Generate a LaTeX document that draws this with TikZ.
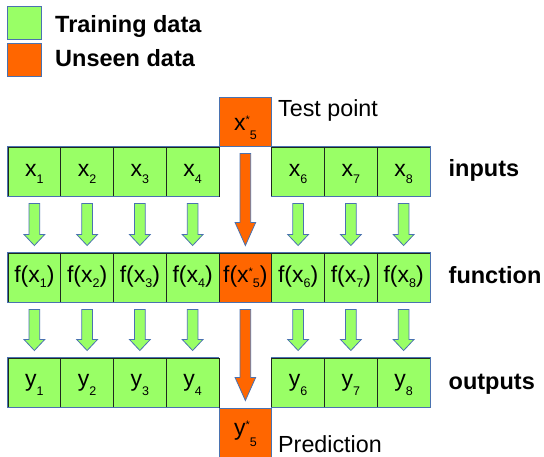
\documentclass[tikz,border=0pt]{standalone}
\usepackage{fontspec}
\setmainfont{Liberation Sans}
\usetikzlibrary{calc}

\definecolor{traingreen}{HTML}{99FF66}
\definecolor{unseenorange}{HTML}{FF6600}
\definecolor{edgeblue}{HTML}{4A72B0}
\definecolor{divider}{HTML}{1E2A1E}

% lowered subscript digit: #1 = drop below the baseline, #2 = digit
\newcommand\dsub[2]{\raisebox{-#1}{\fontsize{12.5}{13}\selectfont #2}}
% small star used for the unseen point
\newcommand\starmark{\raisebox{7pt}{\fontsize{11}{11}\selectfont *}}
% block arrow from the bottom of node #2 to the top of node #3,
% filled with #1, head length #4
\newcommand\blockarrow[4]{%
  \draw[arrowline, fill=#1]
    ($(#2.south)+(-5.3,7)$) -- ($(#3.north)+(-5.3,-7-#4)$)
    -- ($(#3.north)+(-10.3,-7-#4)$) -- ($(#3.north)+(0,-7)$)
    -- ($(#3.north)+(10.3,-7-#4)$) -- ($(#3.north)+(5.3,-7-#4)$)
    -- ($(#2.south)+(5.3,7)$) -- cycle;}

\begin{document}
\begin{tikzpicture}[x=1pt,y=-1pt,
  cell/.style={rectangle, minimum width=52.75pt, minimum height=49pt,
    inner sep=0pt, draw=divider, line width=0.9pt, fill=traingreen,
    font=\fontsize{23}{27}\selectfont, text depth=2pt},
  inrow/.style={text height=11.6pt},
  fnrow/.style={text height=13pt},
  outrow/.style={text height=10.4pt},
  unseen/.style={fill=unseenorange},
  blueline/.style={draw=edgeblue, line width=0.9pt},
  arrowline/.style={draw=edgeblue, line width=0.8pt, line join=miter},
  key/.style={rectangle, minimum width=34pt, minimum height=32.5pt,
    inner sep=0pt, draw=edgeblue, line width=0.9pt},
  keytext/.style={anchor=base west, inner sep=0pt,
    font=\fontsize{23.5}{28}\selectfont\bfseries},
  rowtext/.style={anchor=base west, inner sep=0pt,
    font=\fontsize{23.5}{28}\selectfont\bfseries},
  notetext/.style={anchor=base west, inner sep=0pt,
    font=\fontsize{23.3}{28}\selectfont}]

\useasboundingbox (0,0) rectangle (544,457);

% legend
\node[key, fill=traingreen] (keytrain) at (24.8,22.9) {};
\node[key, fill=unseenorange] (keyunseen) at (24.8,60.2) {};
\node[keytext] (keytraintext) at (55,32.3) {Training data};
\node[keytext] (keyunseentext) at (55,66.7) {Unseen data};

% inputs row
\foreach \i in {1,2,3,4,6,7,8}
  \node[cell, inrow] (x\i) at ({8+52.75*(\i-0.5)},171.5) {x\dsub{7.4pt}{\i}};
% function row
\foreach \i in {1,2,3,4,6,7,8}
  \node[cell, fnrow] (f\i) at ({8+52.75*(\i-0.5)},277.5) {f(x\dsub{4.8pt}{\i})};
\node[cell, fnrow, unseen] (f5) at (245.375,277.5) {f(x\starmark\dsub{4.8pt}{5})};
% outputs row
\foreach \i in {1,2,3,4,6,7,8}
  \node[cell, outrow] (y\i) at ({8+52.75*(\i-0.5)},382.5) {y\dsub{9pt}{\i}};

% test point and prediction
\node[cell, unseen, draw=edgeblue, text height=21pt] (xt) at (245.375,121.5)
  {x\starmark\dsub{9pt}{5}};
\node[cell, unseen, draw=edgeblue, text height=7pt] (yt) at (245.375,432.5)
  {y\starmark\dsub{11pt}{5}};

% outer edges of the rows
\draw[blueline] (x4.north east) -- (x1.north west) -- (x1.south west) -- (x4.south east);
\draw[blueline] (x6.north west) -- (x8.north east) -- (x8.south east) -- (x6.south west);
\draw[blueline] (f1.north west) rectangle (f8.south east);
\draw[blueline] (y4.north east) -- (y1.north west) -- (y1.south west) -- (y4.south east);
\draw[blueline] (y6.north west) -- (y8.north east) -- (y8.south east) -- (y6.south west);

% arrows
\foreach \i in {1,2,3,4,6,7,8} {
  \blockarrow{traingreen}{x\i}{f\i}{11}
  \blockarrow{traingreen}{f\i}{y\i}{11}
}
\blockarrow{unseenorange}{xt}{f5}{23}
\blockarrow{unseenorange}{f5}{yt}{23}

% side labels
\node[notetext] (testlabel) at (278,116.7) {Test point};
\node[notetext] (predlabel) at (278,452.3) {Prediction};
\node[rowtext] (inlabel) at (448.5,176.7) {inputs};
\node[rowtext] (fnlabel) at (448.5,283.3) {function};
\node[rowtext] (outlabel) at (448.5,389) {outputs};
\end{tikzpicture}
\end{document}
